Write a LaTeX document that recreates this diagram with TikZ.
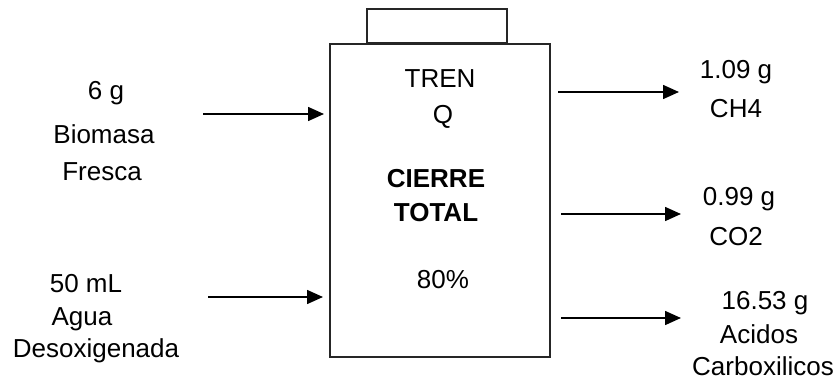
\documentclass[tikz,border=0pt]{standalone}
\usepackage{fontspec}
\setmainfont{Liberation Sans}
\usetikzlibrary{arrows.meta}
\begin{document}
\begin{tikzpicture}[x=1pt,y=-1pt,
  txt/.style={anchor=base,inner sep=0pt,font=\fontsize{26}{30}\selectfont},
  btxt/.style={txt,font=\fontsize{26}{30}\selectfont\bfseries},
  frame/.style={draw=black!85,line width=1.8pt},
  flow/.style={draw=black,line width=1.6pt,-{Triangle[length=16pt,width=14pt]}}]
\useasboundingbox[fill=white] (0,0) rectangle (839,383);
% boxes
\node[frame,minimum width=220pt,minimum height=313pt,inner sep=0pt] (box) at (440,200.5) {};
\node[frame,minimum width=140pt,minimum height=34pt,inner sep=0pt,anchor=south] (cap) at (437,44) {};
% box texts
\node[txt] (tren) at (440,87) {TREN};
\node[txt] (q) at (443,123) {Q};
\node[btxt] (cierre) at (436,187) {CIERRE};
\node[btxt] (total) at (436,221) {TOTAL};
\node[txt] (pct) at (443,288) {80\%};
% left labels
\node[txt] (l1a) at (106,99) {6 g};
\node[txt] (l1b) at (104,143) {Biomasa};
\node[txt] (l1c) at (102,180) {Fresca};
\node[txt] (l2a) at (86,292) {50 mL};
\node[txt] (l2b) at (82,325) {Agua};
\node[txt] (l2c) at (96,357) {Desoxigenada};
% right labels
\node[txt] (r1a) at (736,78) {1.09 g};
\node[txt] (r1b) at (736,117) {CH4};
\node[txt] (r2a) at (739,205) {0.99 g};
\node[txt] (r2b) at (736,245) {CO2};
\node[txt] (r3a) at (765,309) {16.53 g};
\node[txt] (r3b) at (759,343) {Acidos};
\node[txt] (r3c) at (763,375) {Carboxilicos};
% arrow endpoints
\coordinate (i1s) at (203,114); \coordinate (i1e) at (324,114);
\coordinate (i2s) at (208,297); \coordinate (i2e) at (323,297);
\coordinate (o1s) at (558,92);  \coordinate (o1e) at (679,92);
\coordinate (o2s) at (561,214); \coordinate (o2e) at (681,214);
\coordinate (o3s) at (561,318); \coordinate (o3e) at (681,318);
\draw[flow] (i1s) -- (i1e);
\draw[flow] (i2s) -- (i2e);
\draw[flow] (o1s) -- (o1e);
\draw[flow] (o2s) -- (o2e);
\draw[flow] (o3s) -- (o3e);
\end{tikzpicture}
\end{document}
